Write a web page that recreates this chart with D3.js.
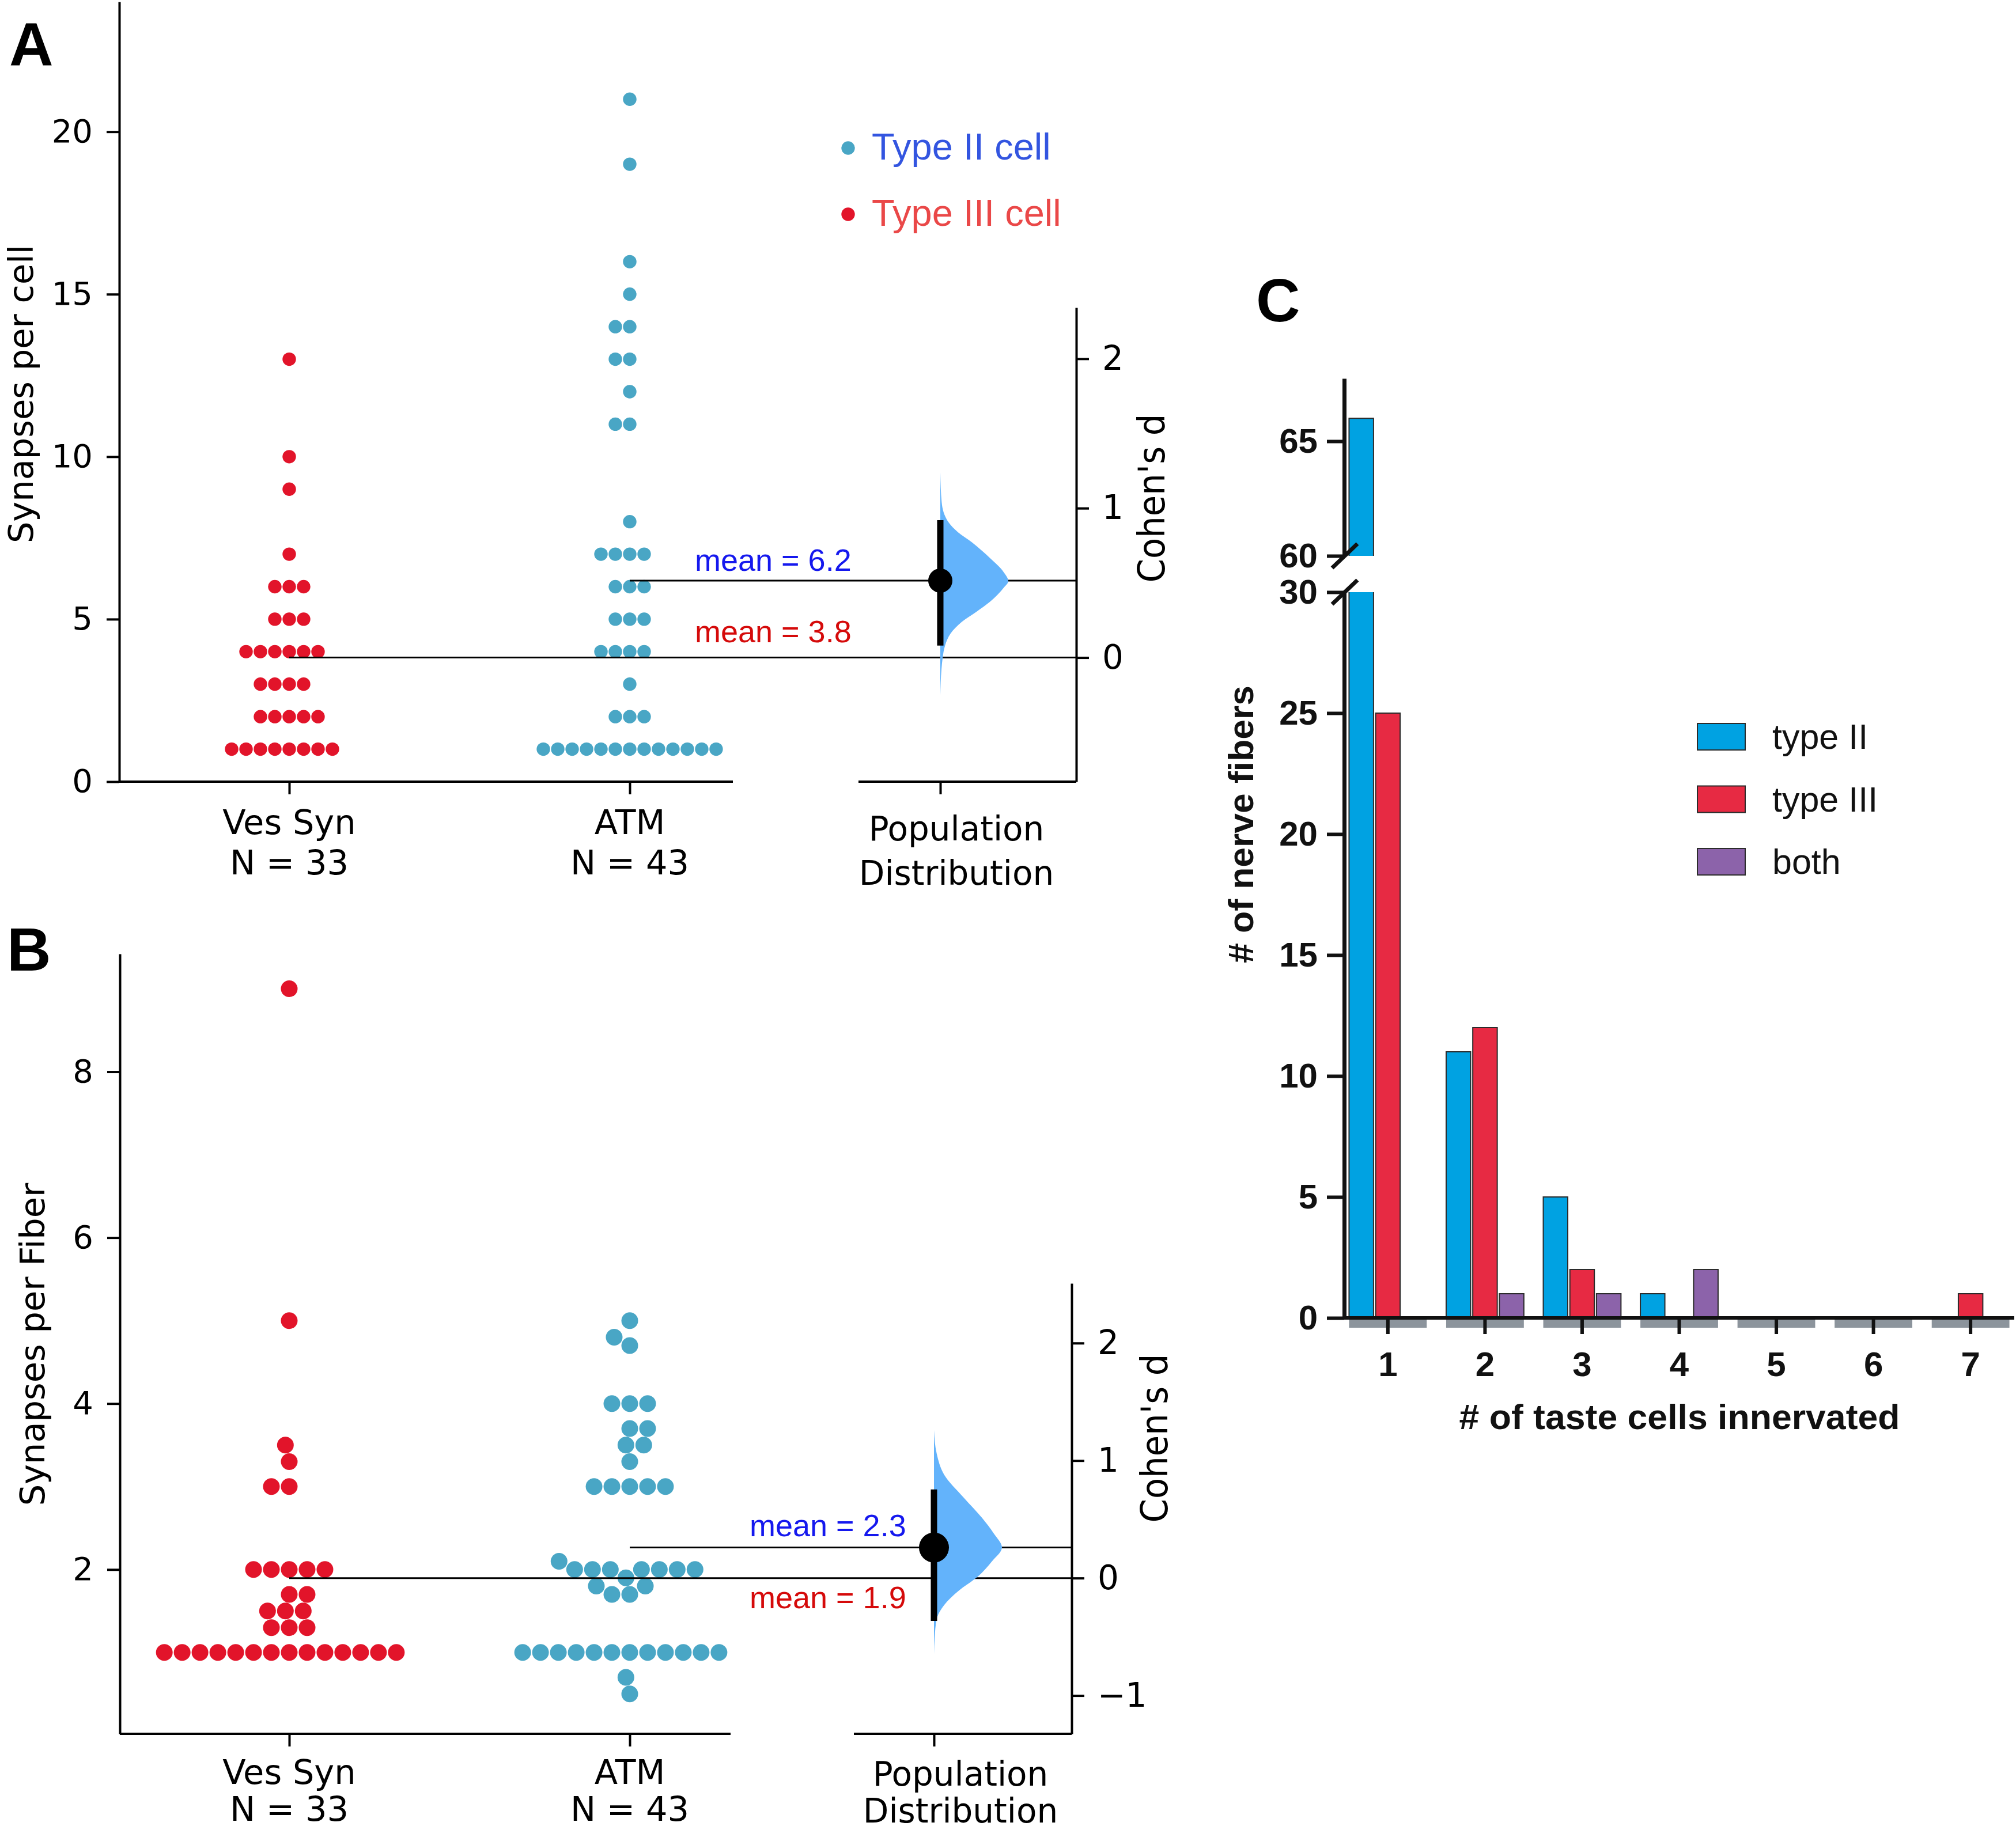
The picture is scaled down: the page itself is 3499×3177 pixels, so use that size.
<!DOCTYPE html>
<html><head><meta charset="utf-8">
<script src="https://cdn.jsdelivr.net/npm/d3@7"></script>
<style>html,body{margin:0;padding:0;background:#fff}</style>
</head><body>
<svg id="chart" width="3499" height="3177" xmlns="http://www.w3.org/2000/svg"></svg>
<script>
// ---------------- DATA ----------------
const groups = ["Ves Syn", "ATM"];
// Panel A: synapses per cell
const cellVesSyn = [1,1,1,1,1,1,1,1, 2,2,2,2,2, 3,3,3,3, 4,4,4,4,4,4, 5,5,5, 6,6,6, 7, 9, 10, 13];
const cellATM = [1,1,1,1,1,1,1,1,1,1,1,1,1, 2,2,2, 3, 4,4,4,4, 5,5,5, 6,6,6, 7,7,7,7, 8, 11,11, 12, 13,13, 14,14, 15, 16, 19, 21];
// Panel B: synapses per fiber
const fiberVesSyn = [1,1,1,1,1,1,1,1,1,1,1,1,1,1, 1.3,1.3,1.3, 1.5,1.5,1.5, 1.7,1.7, 2,2,2,2,2, 3,3, 3.3, 3.5, 5, 9];
const fiberATM = [0.5, 0.7, 1,1,1,1,1,1,1,1,1,1,1,1, 1.7,1.7, 1.8,1.8, 1.9, 2,2,2,2,2,2,2, 2.1, 3,3,3,3,3, 3.3, 3.5,3.5, 3.7,3.7, 4,4,4, 4.7, 4.8, 5];
const ticksA = [0, 5, 10, 15, 20];
const ticksB = [2, 4, 6, 8];
// Cohen's d (effect size, 95% CI) and bootstrap distribution [d, relative density]
const effectA = [0.515];
const ciA = [0.08, 0.92];
const cohenTicksA = [0, 1, 2];
const bootA = [[1.24,0],[1.04,0.02],[0.906,0.12],[0.839,0.26],[0.773,0.46],[0.666,0.73],[0.573,0.93],[0.511,1.0],[0.466,0.93],[0.373,0.73],[0.306,0.53],[0.24,0.32],[0.16,0.15],[0.08,0.07],[0.0,0.035],[-0.08,0.017],[-0.253,0]];
const effectB = [0.26];
const ciB = [-0.365, 0.754];
const cohenTicksB = [-1, 0, 1, 2];
const bootB = [[1.26,0],[1.06,0.04],[0.88,0.15],[0.69,0.43],[0.51,0.71],[0.38,0.88],[0.26,1.0],[0.14,0.85],[0.01,0.64],[-0.11,0.36],[-0.23,0.15],[-0.35,0.04],[-0.51,0.01],[-0.645,0]];
const legendA = ["Type II cell", "Type III cell"];

// Panel C
const innervated = ["1","2","3","4","5","6","7"];
const seriesC = ["type II", "type III", "both"];
const typeII  = [66, 11, 5, 1, 0, 0, 0];
const typeIII = [25, 12, 2, 0, 0, 0, 1];
const bothC   = [0, 1, 1, 2, 0, 0, 0];
const ticksCLow = [0, 5, 10, 15, 20, 25, 30];
const ticksCHigh = [60, 65];

// ---------------- STYLE ----------------
const RED = "#E2142A", BLUE = "#49A6C5";
const MEAN_BLUE = "#1518EE", MEAN_RED = "#D50A0A";
const LEG_BLUE = "#3355E0", LEG_RED = "#EA4848";
const VIOLIN = "#63B3FB";
const C_COLORS = ["#00A2E2", "#E72A43", "#8C63AA"];
const F_MPL = "'DejaVu Sans', sans-serif";
const F_ARIAL = "'Liberation Sans', Arial, sans-serif";
const F_COND = "'DejaVu Sans Condensed', 'DejaVu Sans', sans-serif";

const svg = d3.select("#chart");
svg.append("rect").attr("width", 3499).attr("height", 3177).attr("fill", "#fff");

// seaborn-like beeswarm (offsets in px relative to the category centre)
function beeswarm(values, y, diam) {
  const pts = values.map(v => ({ v, py: y(v) })).sort((a, b) => a.v - b.v);
  const placed = [];
  pts.forEach((p, k) => {
    const yi = -p.py;
    if (k === 0) { placed.push({ x: 0, y: yi, v: p.v }); return; }
    const nb = [];
    for (let j = placed.length - 1; j >= 0; j--) {
      if (yi - placed[j].y < diam) nb.push(placed[j]); else break;
    }
    nb.reverse();
    const cands = [0];
    let leftFirst = true;
    nb.forEach(n => {
      const dy = yi - n.y;
      const dx = Math.sqrt(Math.max(diam * diam - dy * dy, 0)) * 1.05;
      const cl = n.x - dx, cr = n.x + dx;
      if (leftFirst) cands.push(cl, cr); else cands.push(cr, cl);
      leftFirst = !leftFirst;
    });
    const order = cands.map((c, i) => ({ c, i }))
      .sort((a, b) => (Math.abs(a.c) - Math.abs(b.c)) || (a.i - b.i));
    let chosen = order[order.length - 1].c;
    for (const o of order) {
      if (nb.every(n => (n.x - o.c) ** 2 + (n.y - yi) ** 2 >= diam * diam)) { chosen = o.c; break; }
    }
    placed.push({ x: chosen, y: yi, v: p.v });
  });
  return placed.map(q => ({ v: q.v, dx: q.x }));
}

function styleAxis(g, fontSize, fontFamily, sw) {
  g.attr("font-size", fontSize).attr("font-family", fontFamily);
  g.select(".domain").attr("stroke", "#000").attr("stroke-width", sw);
  g.selectAll(".tick line").attr("stroke", "#000").attr("stroke-width", sw);
  g.selectAll(".tick text").attr("fill", "#000");
}

function estimationPanel(c) {
  const g = svg.append("g");
  const x = d3.scalePoint().domain(groups).range(c.catRange);
  const y = c.y;
  const ya = g.append("g").attr("transform", `translate(${c.axisX},0)`)
    .call(d3.axisLeft(y).tickValues(c.yTicks).tickSize(22).tickSizeOuter(0).tickPadding(24).tickFormat(d3.format("d")));
  styleAxis(ya, 56, F_MPL, 4);
  const xa = g.append("g").attr("transform", `translate(0,${c.bottom})`)
    .call(d3.axisBottom(x).tickSize(22).tickSizeOuter(0).tickFormat(""));
  xa.select(".domain").attr("d", `M${c.axisX},0H${c.xAxisEnd}`).attr("stroke", "#000").attr("stroke-width", 4);
  xa.selectAll(".tick line").attr("stroke", "#000").attr("stroke-width", 4);
  const sets = [c.data[0], c.data[1]];
  groups.forEach((name, i) => {
    const t = g.append("text").attr("font-family", F_MPL).attr("font-size", 59).attr("text-anchor", "middle").attr("fill", "#000");
    t.append("tspan").attr("x", x(name)).attr("y", c.catBase[0]).text(name);
    t.append("tspan").attr("x", x(name)).attr("y", c.catBase[1]).text("N = " + sets[i].length);
  });
  g.append("text").attr("transform", `translate(${c.yLabelPos[0]},${c.yLabelPos[1]}) rotate(-90)`)
    .attr("text-anchor", "middle").attr("font-family", F_MPL).attr("font-size", 59).attr("fill", "#000").text(c.yLabel);

  const colors = [RED, BLUE];
  sets.forEach((vals, i) => {
    const sw = beeswarm(vals, y, c.diam);
    g.append("g").selectAll("circle").data(sw).join("circle")
      .attr("cx", d => x(groups[i]) + d.dx).attr("cy", d => y(d.v)).attr("r", c.r).attr("fill", colors[i]);
  });

  const means = sets.map(v => d3.mean(v));
  const dScale = d3.scaleLinear().domain([0, c.effect[0]]).range([y(means[0]), y(means[1])]);
  const dAxisScale = dScale.copy().domain([dScale.invert(c.bottom), dScale.invert(c.rightTop)]).range([c.bottom, c.rightTop]);

  means.forEach((m, i) => {
    g.append("line").attr("x1", x(groups[i])).attr("x2", c.rightAxisX).attr("y1", y(m)).attr("y2", y(m))
      .attr("stroke", "#000").attr("stroke-width", 3);
  });
  g.append("text").attr("x", c.meanTextX).attr("y", y(means[1]) + c.meanOff[1]).attr("font-family", F_ARIAL).attr("font-size", 54)
    .attr("fill", MEAN_BLUE).text("mean = " + d3.format(".1f")(means[1]));
  g.append("text").attr("x", c.meanTextX).attr("y", y(means[0]) + c.meanOff[0]).attr("font-family", F_ARIAL).attr("font-size", 54)
    .attr("fill", MEAN_RED).text("mean = " + d3.format(".1f")(means[0]));

  const ra = g.append("g").attr("transform", `translate(${c.rightAxisX},0)`)
    .call(d3.axisRight(dAxisScale).tickValues(c.cohenTicks).tickSize(22).tickSizeOuter(0).tickPadding(23).tickFormat(d3.format("d")));
  styleAxis(ra, 58, F_MPL, 4);
  g.append("text").attr("transform", `translate(${c.cohenLabelPos[0]},${c.cohenLabelPos[1]}) rotate(-90)`)
    .attr("text-anchor", "middle").attr("font-family", F_COND).attr("font-stretch", "condensed").attr("font-size", 64)
    .attr("textLength", 293).attr("lengthAdjust", "spacingAndGlyphs").attr("fill", "#000").text("Cohen's d");

  const popName = "Population Distribution";
  const px = d3.scalePoint().domain([popName]).range([c.popAxisStart, 2 * c.popX - c.popAxisStart]).padding(0.5);
  const pa = g.append("g").attr("transform", `translate(0,${c.bottom})`)
    .call(d3.axisBottom(px).tickSize(22).tickSizeOuter(0).tickFormat(""));
  pa.select(".domain").attr("d", `M${c.popAxisStart},0H${c.rightAxisX}`).attr("stroke", "#000").attr("stroke-width", 4);
  pa.selectAll(".tick line").attr("stroke", "#000").attr("stroke-width", 4);
  const pt = g.append("text").attr("font-family", F_MPL).attr("font-size", 58).attr("text-anchor", "middle").attr("fill", "#000");
  pt.append("tspan").attr("x", px(popName) + c.popLabelShift).attr("y", c.popBase[0]).text("Population");
  pt.append("tspan").attr("x", px(popName) + c.popLabelShift).attr("y", c.popBase[1]).text("Distribution");

  const cx = px(popName);
  const w = d3.scaleLinear().domain([0, 1]).range([0, 118]);
  const area = d3.area().curve(d3.curveMonotoneY)
    .y(p => dScale(p[0])).x0(cx).x1(p => cx + w(p[1]));
  g.append("path").attr("d", area(c.boot)).attr("fill", VIOLIN);
  g.append("line").attr("x1", cx).attr("x2", cx).attr("y1", dScale(c.ci[0])).attr("y2", dScale(c.ci[1]))
    .attr("stroke", "#000").attr("stroke-width", 11);
  g.append("circle").attr("cx", cx).attr("cy", dScale(c.effect[0])).attr("r", c.dotR).attr("fill", "#000");
}

// Panel A
const yA = d3.scaleLinear().domain([0, 24]).range([1357, 3]);
estimationPanel({
  data: [cellVesSyn, cellATM], y: yA, yTicks: ticksA, axisX: 207, xAxisEnd: 1272, bottom: 1357,
  catRange: [502, 1093], r: 11.7, diam: 23.8, catBase: [1448, 1518],
  yLabel: "Synapses per cell", yLabelPos: [57, 684],
  meanTextX: 1206, meanOff: [-27, -17],
  rightAxisX: 1868, rightTop: 534, effect: effectA, ci: ciA, boot: bootA, cohenTicks: cohenTicksA,
  cohenLabelPos: [2021, 865], popAxisStart: 1490, popX: 1632, popLabelShift: 28, popBase: [1459, 1536], dotR: 21
});
// Panel B
const yB = d3.scaleLinear().domain([0.02, 9.42]).range([3010, 1656]);
estimationPanel({
  data: [fiberVesSyn, fiberATM], y: yB, yTicks: ticksB, axisX: 208, xAxisEnd: 1268, bottom: 3010,
  catRange: [502, 1093], r: 14.5, diam: 29.5, catBase: [3097, 3161],
  yLabel: "Synapses per Fiber", yLabelPos: [77, 2334],
  meanTextX: 1301, meanOff: [52, -20],
  rightAxisX: 1860, rightTop: 2228, effect: effectB, ci: ciB, boot: bootB, cohenTicks: cohenTicksB,
  cohenLabelPos: [2026, 2497], popAxisStart: 1482, popX: 1621, popLabelShift: 46, popBase: [3100, 3164], dotR: 26
});

// Panel letters
[["A", 16, 114], ["B", 12, 1685], ["C", 2180, 558]].forEach(([t, x, y]) => {
  svg.append("text").attr("x", x).attr("y", y).attr("font-family", F_ARIAL).attr("font-weight", "bold")
    .attr("font-size", 106).attr("fill", "#000").text(t);
});

// Legend A
const legAColors = [BLUE, RED], legATextColors = [LEG_BLUE, LEG_RED];
const legAy = d3.scalePoint().domain(legendA).range([257, 372]);
legendA.forEach((name, i) => {
  svg.append("circle").attr("cx", 1472).attr("cy", legAy(name)).attr("r", 11.7).attr("fill", legAColors[i]);
  svg.append("text").attr("x", 1513).attr("y", legAy(name) + 20).attr("font-family", F_ARIAL).attr("font-size", 65)
    .attr("fill", legATextColors[i]).text(name);
});

// ---------------- Panel C ----------------
const gc = svg.append("g");
const xC = d3.scaleBand().domain(innervated).range([2333, 3496]).paddingInner(0.2).paddingOuter(0.05);
const xSub = d3.scaleBand().domain(seriesC).range([0, xC.bandwidth()]).paddingInner(0.08);
const yLow = d3.scaleLinear().domain([0, 30]).range([2288, 1028]);
const yHigh = d3.scaleLinear().domain([60, 65]).range([965, 766]);
const yTopVal = yHigh.invert(657);
const seriesVals = [typeII, typeIII, bothC];

gc.append("g").selectAll("rect").data(innervated).join("rect")
  .attr("x", d => xC(d)).attr("width", xC.bandwidth()).attr("y", yLow(0) + 3).attr("height", 14).attr("fill", "#8C949C");

const barG = gc.append("g");
seriesVals.forEach((vals, s) => {
  vals.forEach((v, gi) => {
    if (v <= 0) return;
    const x0 = xC(innervated[gi]) + xSub(seriesC[s]);
    const bw = xSub.bandwidth();
    if (v <= 30) {
      barG.append("rect").attr("x", x0).attr("width", bw).attr("y", yLow(v)).attr("height", yLow(0) - yLow(v))
        .attr("fill", C_COLORS[s]).attr("stroke", "#2b2b2b").attr("stroke-width", 2);
    } else {
      const yl = yLow(30), yb = yLow(0);
      barG.append("rect").attr("x", x0).attr("width", bw).attr("y", yl).attr("height", yb - yl).attr("fill", C_COLORS[s]);
      barG.append("path").attr("d", `M${x0},${yl}V${yb}H${x0 + bw}V${yl}`).attr("fill", "none").attr("stroke", "#2b2b2b").attr("stroke-width", 2);
      const yt = yHigh(Math.min(v, yTopVal)), yh = yHigh(60);
      barG.append("rect").attr("x", x0).attr("width", bw).attr("y", yt).attr("height", yh - yt).attr("fill", C_COLORS[s]);
      barG.append("path").attr("d", `M${x0},${yh}V${yt}H${x0 + bw}V${yh}`).attr("fill", "none").attr("stroke", "#2b2b2b").attr("stroke-width", 2);
    }
  });
});

const yaLow = gc.append("g").attr("transform", "translate(2333,0)")
  .call(d3.axisLeft(yLow).tickValues(ticksCLow).tickSize(30).tickSizeOuter(0).tickPadding(16));
const yaHigh = gc.append("g").attr("transform", "translate(2333,0)")
  .call(d3.axisLeft(yHigh.copy().domain([60, yTopVal]).range([965, 657])).tickValues(ticksCHigh).tickSize(30).tickSizeOuter(0).tickPadding(16));
[yaLow, yaHigh].forEach(a => {
  a.attr("font-size", 60).attr("font-family", F_ARIAL).attr("font-weight", "bold");
  a.select(".domain").attr("stroke", "#111").attr("stroke-width", 7);
  a.selectAll(".tick line").attr("stroke", "#111").attr("stroke-width", 6);
  a.selectAll(".tick text").attr("fill", "#111");
});
[yHigh(60), yLow(30)].forEach(yy => {
  gc.append("line").attr("x1", 2312).attr("y1", yy + 21).attr("x2", 2356).attr("y2", yy - 21)
    .attr("stroke", "#111").attr("stroke-width", 7);
});

const xaC = gc.append("g").attr("transform", `translate(0,${yLow(0)})`)
  .call(d3.axisBottom(xC).tickSize(28).tickSizeOuter(0).tickPadding(30));
xaC.attr("font-size", 60).attr("font-family", F_ARIAL).attr("font-weight", "bold");
xaC.select(".domain").attr("d", "M2330,0H3496").attr("stroke", "#111").attr("stroke-width", 6);
xaC.selectAll(".tick line").attr("stroke", "#111").attr("stroke-width", 6);
xaC.selectAll(".tick text").attr("fill", "#111");

gc.append("text").attr("x", 2915).attr("y", 2481).attr("text-anchor", "middle").attr("font-family", F_ARIAL)
  .attr("font-weight", "bold").attr("font-size", 62).attr("textLength", 765).attr("lengthAdjust", "spacingAndGlyphs")
  .attr("fill", "#111").text("# of taste cells innervated");
gc.append("text").attr("transform", "translate(2175,1431) rotate(-90)").attr("text-anchor", "middle").attr("font-family", F_ARIAL)
  .attr("font-weight", "bold").attr("font-size", 62).attr("textLength", 482).attr("lengthAdjust", "spacingAndGlyphs")
  .attr("fill", "#111").text("# of nerve fibers");

const legY = d3.scalePoint().domain(seriesC).range([1256, 1473]);
seriesC.forEach((name, i) => {
  gc.append("rect").attr("x", 2946).attr("y", legY(name)).attr("width", 83).attr("height", 46)
    .attr("fill", C_COLORS[i]).attr("stroke", "#2b2b2b").attr("stroke-width", 2);
  gc.append("text").attr("x", 3076).attr("y", legY(name) + 44).attr("font-family", F_ARIAL).attr("font-size", 61)
    .attr("fill", "#111").text(name);
});
</script>
</body></html>
